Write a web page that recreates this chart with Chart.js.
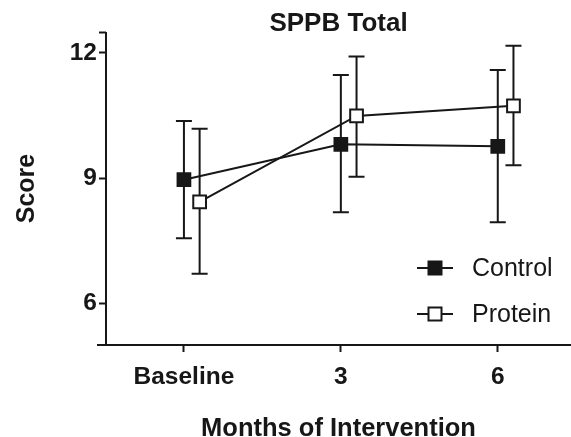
<!DOCTYPE html>
<html>
<head>
<meta charset="utf-8">
<script src="https://cdn.jsdelivr.net/npm/chart.js@4.4.1/dist/chart.umd.min.js"></script>
<style>
  html, body { margin: 0; padding: 0; background: #fff; }
  #wrap { width: 571px; height: 437px; }
</style>
</head>
<body>
<div id="wrap"><canvas id="sppbChart" width="571" height="437"></canvas></div>
<script>
// time points (months) and their tick labels
var months = [0, 3, 6];
var monthLabels = ['Baseline', '3', '6'];
var scoreTicks = [6, 9, 12];

// group means and error bar limits
var controlMean = [8.96, 9.81, 9.76];
var controlLow = [7.56, 8.18, 7.94];
var controlHigh = [10.37, 11.47, 11.59];

var proteinMean = [8.43, 10.49, 10.73];
var proteinLow = [6.71, 9.03, 9.31];
var proteinHigh = [10.18, 11.91, 12.17];

var PROTEIN_SHIFT = 0.3;   // nudge protein points right so bars don't overlap
var INK = '#171717';
var FONT = '"Liberation Sans", Arial, Helvetica, sans-serif';

function toPoints(xs, ys, lo, hi, shift) {
    var pts = [];
    for (var i = 0; i < xs.length; i++) {
        pts.push({x: xs[i] + shift, y: ys[i], lo: lo[i], hi: hi[i]});
    }
    return pts;
}

var errorBars = {
    id: 'errorBars',
    beforeDatasetsDraw: function(chart) {
        var ctx = chart.ctx;
        var xs = chart.scales.x, ys = chart.scales.y;
        ctx.save();
        ctx.strokeStyle = INK;
        ctx.lineWidth = 2;
        chart.data.datasets.forEach(function(ds) {
            ds.data.forEach(function(p) {
                var px = xs.getPixelForValue(p.x);
                var top = ys.getPixelForValue(p.hi);
                var bot = ys.getPixelForValue(p.lo);
                ctx.beginPath();
                ctx.moveTo(px, top); ctx.lineTo(px, bot);
                ctx.moveTo(px - 8, top); ctx.lineTo(px + 8, top);
                ctx.moveTo(px - 8, bot); ctx.lineTo(px + 8, bot);
                ctx.stroke();
            });
        });
        ctx.restore();
    }
};

var axisLines = {
    id: 'axisLines',
    afterDraw: function(chart) {
        var ctx = chart.ctx, a = chart.chartArea;
        ctx.save();
        ctx.strokeStyle = INK;
        ctx.lineWidth = 2;
        ctx.beginPath();
        ctx.moveTo(a.left, a.top);
        ctx.lineTo(a.left, a.bottom);
        ctx.moveTo(a.left - 9, a.bottom);
        ctx.lineTo(a.right, a.bottom);
        ctx.stroke();
        ctx.restore();
    }
};

var sideLegend = {
    id: 'sideLegend',
    afterDraw: function(chart) {
        var ctx = chart.ctx, a = chart.chartArea;
        var x0 = a.right - 154, y0 = a.top + 236;
        ctx.save();
        chart.data.datasets.forEach(function(ds, i) {
            var y = y0 + i * 46;
            ctx.strokeStyle = INK;
            ctx.lineWidth = 2;
            ctx.beginPath();
            ctx.moveTo(x0, y); ctx.lineTo(x0 + 36, y);
            ctx.stroke();
            ctx.fillStyle = ds.pointBackgroundColor;
            ctx.fillRect(x0 + 11.5, y - 6.5, 13, 13);
            ctx.strokeRect(x0 + 11.5, y - 6.5, 13, 13);
            ctx.fillStyle = INK;
            ctx.font = '25px ' + FONT;
            ctx.textBaseline = 'middle';
            ctx.textAlign = 'left';
            ctx.fillText(ds.label, x0 + 55, y + 1);
        });
        ctx.restore();
    }
};

new Chart(document.getElementById('sppbChart').getContext('2d'), {
    type: 'line',
    data: {
        datasets: [{
            label: 'Control',
            data: toPoints(months, controlMean, controlLow, controlHigh, 0),
            borderColor: INK,
            borderWidth: 2,
            pointStyle: 'rect',
            pointRadius: 9,
            pointBorderWidth: 2,
            pointBorderColor: INK,
            pointBackgroundColor: INK
        }, {
            label: 'Protein',
            data: toPoints(months, proteinMean, proteinLow, proteinHigh, PROTEIN_SHIFT),
            borderColor: INK,
            borderWidth: 2,
            pointStyle: 'rect',
            pointRadius: 9,
            pointBorderWidth: 2,
            pointBorderColor: INK,
            pointBackgroundColor: '#ffffff'
        }]
    },
    options: {
        responsive: false,
        animation: false,
        layout: { padding: 0, autoPadding: false },
        plugins: {
            legend: { display: false },
            tooltip: { enabled: false },
            title: {
                display: true,
                text: 'SPPB Total',
                fullSize: false,
                color: INK,
                font: { family: FONT, size: 26, weight: 'bold', lineHeight: 1 },
                padding: { top: 11, bottom: -5 }
            }
        },
        scales: {
            x: {
                type: 'linear',
                min: -1.49,
                max: 7.4,
                afterBuildTicks: function(scale) {
                    scale.ticks = months.map(function(m) { return {value: m}; });
                },
                afterFit: function(scale) {
                    scale.height = 92;
                    scale.paddingLeft = 0;
                    scale.paddingRight = 0;
                },
                border: { display: false },
                grid: {
                    drawOnChartArea: false,
                    drawTicks: true,
                    tickLength: 7,
                    tickWidth: 2,
                    tickColor: INK
                },
                ticks: {
                    color: INK,
                    padding: 11,
                    maxRotation: 0,
                    font: { family: FONT, size: 24.5, weight: 'bold' },
                    callback: function(v) {
                        var i = months.indexOf(v);
                        return i >= 0 ? monthLabels[i] : '';
                    }
                },
                title: {
                    display: true,
                    text: 'Months of Intervention',
                    color: INK,
                    font: { family: FONT, size: 25.5, weight: 'bold', lineHeight: 1.2 },
                    padding: { top: 0, bottom: -7 }
                }
            },
            y: {
                min: 5,
                max: 12.5,
                afterBuildTicks: function(scale) {
                    scale.ticks = scoreTicks.concat([12.5]).map(function(v) { return {value: v}; });
                },
                afterFit: function(scale) {
                    scale.width = 106;
                    scale.paddingTop = 0;
                    scale.paddingBottom = 0;
                },
                border: { display: false },
                grid: {
                    drawOnChartArea: false,
                    drawTicks: true,
                    tickLength: 7,
                    tickWidth: 2,
                    tickColor: INK
                },
                ticks: {
                    color: INK,
                    padding: 2,
                    font: { family: FONT, size: 24.5, weight: 'bold' },
                    callback: function(v) {
                        return scoreTicks.indexOf(v) >= 0 ? String(v) : '';
                    }
                },
                title: {
                    display: true,
                    text: 'Score',
                    color: INK,
                    font: { family: FONT, size: 25, weight: 'bold', lineHeight: 1.2 },
                    padding: { top: 12, bottom: 0 }
                }
            }
        }
    },
    plugins: [errorBars, axisLines, sideLegend]
});
</script>
</body>
</html>
